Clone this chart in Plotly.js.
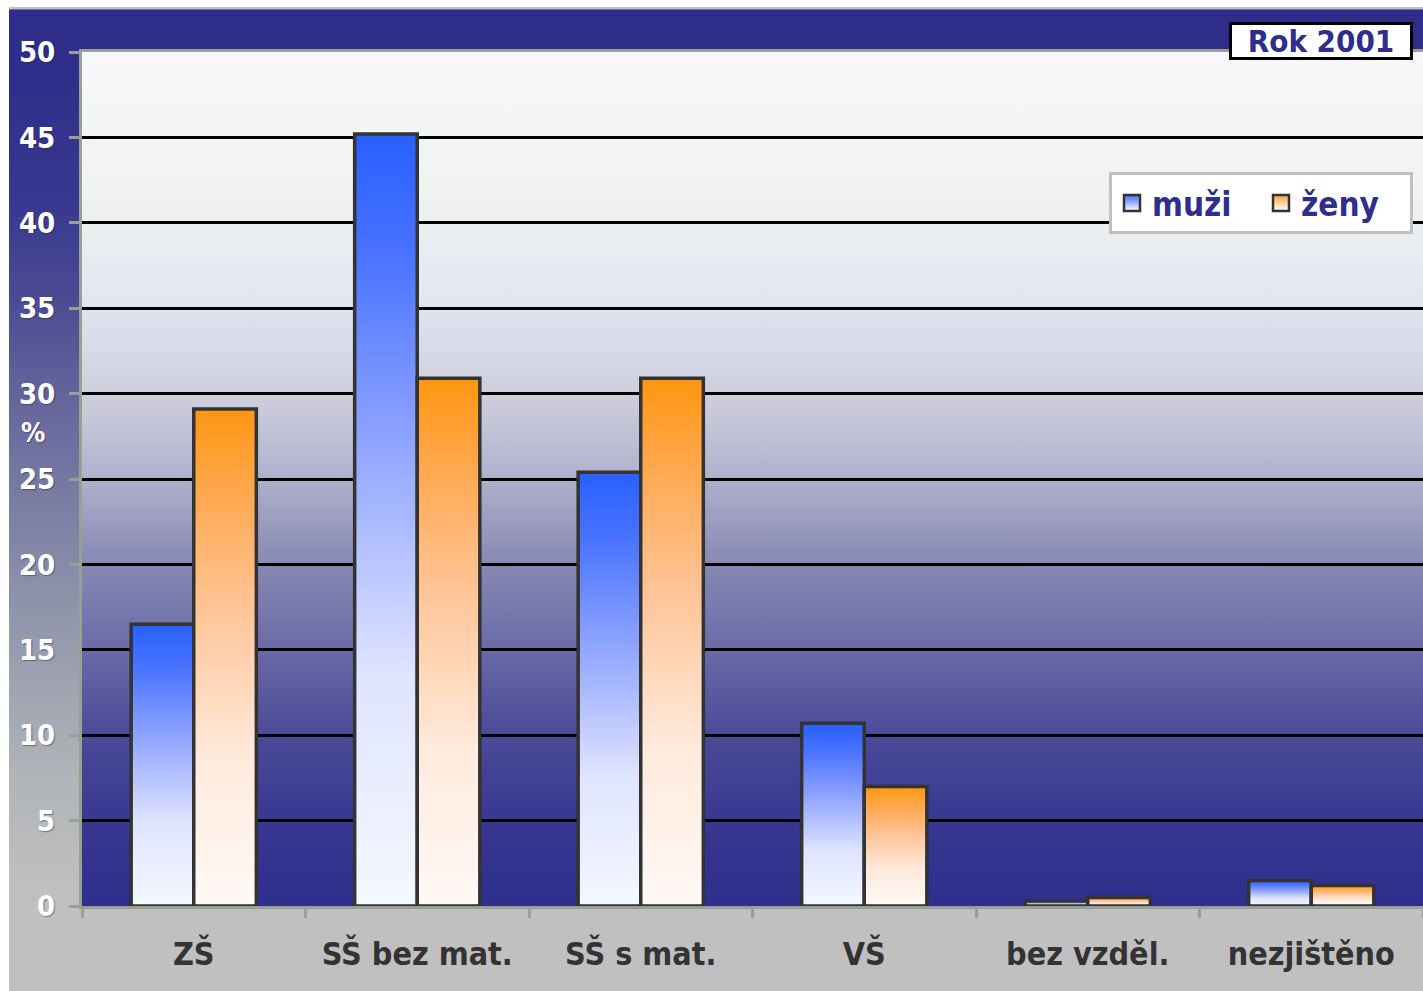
<!DOCTYPE html>
<html>
<head>
<meta charset="utf-8">
<script src="https://cdn.plot.ly/plotly-3.0.1.min.js"></script>
<style>
html,body{margin:0;padding:0;background:#ffffff;}
#chart{width:1423px;height:991px;}
</style>
</head>
<body>
<div id="chart"></div>
<script>
// ---- data ----
const categories = ['ZŠ', 'SŠ bez mat.', 'SŠ s mat.', 'VŠ', 'bez vzděl.', 'nezjištěno'];
const muzi = [16.5, 45.2, 25.4, 10.7, 0.3, 1.5];
const zeny = [29.1, 30.9, 30.9, 7.0, 0.5, 1.2];
const seriesNames = ['muži', 'ženy'];
const yTicks = [0, 5, 10, 15, 20, 25, 30, 35, 40, 45, 50];
const yTitle = '%';
const chartTitle = 'Rok 2001';

// ---- style ----
const NAVY = '#2e2e8c';
const BAR_W = 0.28;
const OFFS = [-0.14, 0.14];
const barScales = [
  [[0, '#f4f8ff'], [0.3, '#dfe4ff'], [0.6, '#8fa4ff'], [0.85, '#4872ff'], [1, '#2860ff']],
  [[0, '#fff9f6'], [0.3, '#ffeadc'], [0.6, '#ffc496'], [0.85, '#ffa648'], [1, '#ff9610']]
];
const legendColors = ['#3f6cff', '#ffa040'];
const FONT = '"DejaVu Sans Condensed", "DejaVu Sans", Verdana, sans-serif';

function svgUri(w, h, stops, extra) {
  let s = `<svg xmlns="http://www.w3.org/2000/svg" width="${w}" height="${h}" viewBox="0 0 ${w} ${h}" preserveAspectRatio="none"><defs><linearGradient id="g" x1="0" y1="0" x2="0" y2="1">`;
  stops.forEach(st => { s += `<stop offset="${st[0]}" stop-color="${st[1]}"/>`; });
  s += `</linearGradient></defs><rect x="0" y="0" width="${w}" height="${h}" fill="url(#g)"/>${extra || ''}</svg>`;
  return 'data:image/svg+xml;charset=utf-8,' + encodeURIComponent(s);
}

const paperImg = svgUri(1414, 984, [
  [0, '#c0c0c0'], [0.002, '#c0c0c0'], [0.003, '#2e2e8a'], [0.06, '#2e2e8a'], [0.2, '#383890'],
  [0.3, '#4c4c94'], [0.42, '#6a6a9e'], [0.58, '#8a8ea8'], [0.78, '#b0b4b8'], [0.9, '#c0c0c0'], [1, '#c0c0c0']
]);
const plotImg = svgUri(1341, 854, [
  [0, '#f8f8fa'], [0.17, '#f0f2f0'], [0.29, '#e2e6f0'], [0.41, '#ccccdc'], [0.5, '#b0b0cc'],
  [0.59, '#8a8cb4'], [0.7, '#6a6aa8'], [0.8, '#4a4a98'], [0.9, '#383892'], [1, '#2e2e8c']
]);

const traces = [];
[muzi, zeny].forEach((vals, s) => {
  vals.forEach((v, i) => {
    const x0 = i + OFFS[s] - BAR_W / 2, x1 = i + OFFS[s] + BAR_W / 2;
    traces.push({
      type: 'scatter', mode: 'lines',
      x: [x0, x0, x1, x1, x0], y: [0, v, v, 0, 0],
      fill: 'toself',
      fillgradient: { type: 'vertical', colorscale: barScales[s] },
      line: { color: '#333333', width: 3.5 },
      showlegend: false, hoverinfo: 'text',
      text: seriesNames[s] + ' – ' + categories[i] + ': ' + v + ' %'
    });
  });
});
seriesNames.forEach((nm, s) => {
  traces.push({
    type: 'scatter', mode: 'markers', x: [null], y: [null], name: nm,
    marker: { symbol: 'square', size: 19, color: legendColors[s],
      gradient: { type: 'vertical', color: '#ffffff' },
      line: { color: '#333333', width: 2.5 } }
  });
});

const layout = {
  width: 1423, height: 991,
  margin: { l: 82, r: 0, t: 52, b: 85 },
  paper_bgcolor: '#ffffff',
  plot_bgcolor: 'rgba(0,0,0,0)',
  showlegend: true,
  images: [
    { source: paperImg, xref: 'paper', yref: 'paper', x: (9 - 82) / 1341, y: (906 - 7) / 854,
      sizex: 1414 / 1341, sizey: 984 / 854, sizing: 'stretch', xanchor: 'left', yanchor: 'top', layer: 'below' },
    { source: plotImg, xref: 'paper', yref: 'paper', x: 0, y: 1, sizex: 1, sizey: 1,
      sizing: 'stretch', xanchor: 'left', yanchor: 'top', layer: 'below' }
  ],
  xaxis: {
    range: [-0.5, 5.5], tickmode: 'array', tickvals: categories.map((c, i) => i), ticktext: categories,
    ticks: '', showgrid: false, zeroline: false,
    showline: true, linecolor: '#97a097', linewidth: 3, mirror: true,
    minor: { tickmode: 'linear', tick0: -0.5, dtick: 1, ticks: 'outside', ticklen: 9, tickwidth: 3, tickcolor: '#97a097', showgrid: false },
    ticklabelstandoff: 18,
    tickfont: { family: FONT, size: 32, color: '#333333', weight: 'bold' },
    fixedrange: true
  },
  yaxis: {
    range: [0, 50], tickmode: 'array', tickvals: yTicks,
    ticks: 'outside', ticklen: 10, tickwidth: 3, tickcolor: '#97a097',
    showgrid: true, gridcolor: '#000000', gridwidth: 3, zeroline: false,
    showline: true, linecolor: '#97a097', linewidth: 3,
    ticklabelstandoff: 8,
    tickfont: { family: FONT, size: 29, color: '#ffffff', weight: 'bold', shadow: '1px 1px 1px rgba(40,40,80,0.5)' },
    fixedrange: true
  },
  legend: {
    orientation: 'h', x: (1413 - 82) / 1341, xanchor: 'right', y: (906 - 172) / 854, yanchor: 'top',
    bgcolor: '#ffffff', bordercolor: '#c0c0c0', borderwidth: 3,
    font: { family: FONT, size: 33, color: NAVY, weight: 'bold' },
    itemwidth: 30, entrywidth: 104
  },
  annotations: [
    { text: yTitle, xref: 'paper', yref: 'y', x: (33 - 82) / 1341, y: 27.75, xanchor: 'center', yanchor: 'middle',
      showarrow: false, font: { family: FONT, size: 27, color: '#ffffff', weight: 'bold', shadow: '1px 1px 1px rgba(40,40,80,0.5)' } },
    { text: chartTitle, xref: 'paper', yref: 'paper', x: (1413 - 82) / 1341, y: (906 - 22) / 854,
      xanchor: 'right', yanchor: 'top', showarrow: false, width: 178, height: 32, align: 'center',
      bgcolor: '#ffffff', bordercolor: '#000000', borderwidth: 3, borderpad: 0,
      font: { family: FONT, size: 31, color: NAVY, weight: 'bold' } }
  ]
};

Plotly.newPlot('chart', traces, layout, { displayModeBar: false, staticPlot: false });
</script>
</body>
</html>
